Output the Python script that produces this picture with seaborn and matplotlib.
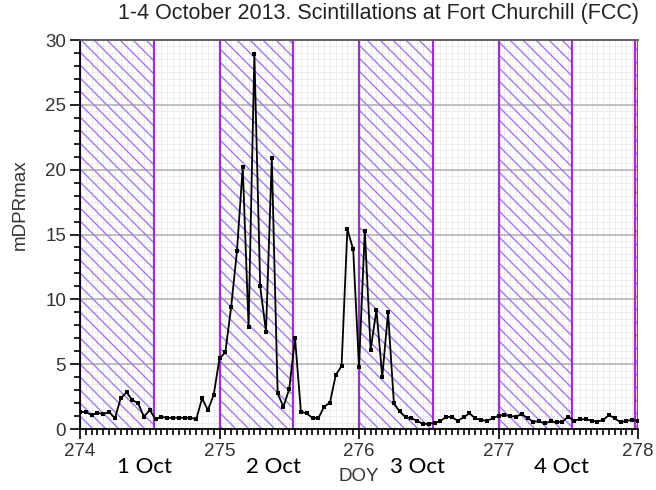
import numpy as np
import matplotlib
matplotlib.use("Agg")
import matplotlib.pyplot as plt
import matplotlib.transforms as mtransforms
from matplotlib.collections import LineCollection
from matplotlib.ticker import MultipleLocator
import seaborn as sns

# Hourly maximum phase-scintillation index (mDPRmax), DOY 274.0 .. 278.0
mdpr_max = [
    1.34, 1.29, 1.08, 1.26, 1.13, 1.34, 0.82, 2.36, 2.83, 2.24, 1.98, 0.95,
    1.46, 0.75, 0.95, 0.85, 0.87, 0.87, 0.87, 0.87, 0.75, 2.36, 1.46, 2.62,
    5.45, 5.90, 9.40, 13.7, 20.2, 7.90, 28.9, 11.0, 7.50, 20.9, 2.75, 1.72,
    3.10, 7.00, 1.34, 1.20, 0.85, 0.82, 1.72, 2.03, 4.16, 4.86, 15.4, 13.85,
    4.80, 15.3, 6.10, 9.20, 4.00, 9.00, 1.98, 1.35, 0.90, 0.82, 0.64, 0.38,
    0.40, 0.47, 0.60, 0.95, 0.90, 0.64, 0.90, 1.21, 0.82, 0.69, 0.64, 0.82,
    1.03, 1.08, 1.00, 0.95, 1.16, 0.82, 0.57, 0.59, 0.44, 0.59, 0.51, 0.57,
    0.95, 0.64, 0.75, 0.75, 0.64, 0.57, 0.69, 1.08, 0.82, 0.51, 0.64, 0.69,
    0.64,
]
doy = 274 + np.arange(len(mdpr_max)) / 24

# Local-night intervals (hatched)
night_start = [274.0, 275.0, 276.0, 277.0, 277.975]
night_end = [274.53, 275.53, 276.53, 277.53, 278.0]

day_labels = ["1 Oct", "2 Oct", "3 Oct", "4 Oct"]
day_label_x = [274.46, 275.39, 276.42, 277.45]

x_ticks = [274, 275, 276, 277, 278]
y_ticks = [0, 5, 10, 15, 20, 25, 30]

sns.set_theme(style="white")
plt.rcParams["font.family"] = ["Liberation Sans", "DejaVu Sans"]

W, H = 656, 490
fig = plt.figure(figsize=(W / 100, H / 100), dpi=100)
ax_px = (80, 40, 558, 389)  # left, top, width, height in pixels
ax = fig.add_axes([ax_px[0] / W, 1 - (ax_px[1] + ax_px[3]) / H,
                   ax_px[2] / W, ax_px[3] / H])
ax.set_xlim(274, 278)
ax.set_ylim(0, 30)

# grid: fine light grid plus gray major lines
for yv in np.arange(0.5, 30, 0.5):
    ax.axhline(yv, color="#ececec", lw=0.7, zorder=0)
for xv in np.arange(274, 278, 1 / 24):
    ax.axvline(xv, color="#ececec", lw=0.7, zorder=0)
for yv in y_ticks[1:-1]:
    ax.axhline(yv, color="#b4b4b4", lw=1.2, zorder=0.5)
for xv in x_ticks[1:-1]:
    ax.axvline(xv, color="#b4b4b4", lw=1.0, zorder=0.5)

# diagonal hatching (45 degrees on screen) clipped to each night band
hatch_color = "#a57ae6"
edge_color = "#9a34c8"
spacing = 13.0 / ax_px[2]          # in axes-x units
drop = ax_px[3] / ax_px[2]         # axes-x run for a full-height 45° line
offsets = np.arange(-drop - spacing, 1 + spacing, spacing)
segs = [[(c, 1.0), (c + drop, 0.0)] for c in offsets]

for s, e in zip(night_start, night_end):
    band = ax.axvspan(s, e, facecolor="none", edgecolor="none", lw=0, zorder=1)
    lc = LineCollection(segs, colors=hatch_color, linewidths=1.0,
                        transform=ax.transAxes, zorder=1)
    ax.add_collection(lc, autolim=False)
    lc.set_clip_path(band)
    ax.axvline(s, color=edge_color, lw=1.6, zorder=1.5)
    ax.axvline(e, color=edge_color, lw=1.6, zorder=1.5)

sns.lineplot(x=doy, y=mdpr_max, ax=ax, color="black", lw=1.3,
             marker="s", markersize=2.2, markeredgewidth=0, zorder=3)

ax.set_xlim(274, 278)
ax.set_ylim(0, 30)
ax.set_xticks(x_ticks)
ax.set_yticks(y_ticks)
ax.xaxis.set_minor_locator(MultipleLocator(1 / 24))
ax.yaxis.set_minor_locator(MultipleLocator(1))
ax.tick_params(axis="both", which="major", direction="out", length=7,
               width=1.2, color="black", labelsize=13.5,
               labelcolor="#333333", pad=3)
ax.tick_params(axis="both", which="minor", direction="out", length=4,
               width=1.2, color="black")
ax.tick_params(axis="x", bottom=True, which="both")
ax.tick_params(axis="y", left=True, which="both")

for side in ["left", "bottom", "top"]:
    ax.spines[side].set_color("black")
    ax.spines[side].set_linewidth(1.3)
ax.spines["top"].set_color("#555555")
ax.spines["right"].set_visible(False)

ax.set_ylabel("mDPRmax", fontsize=13.5, color="#333333")
ax.yaxis.set_label_coords(-0.092, 0.576)
ax.set_xlabel("DOY", fontsize=13.5, color="#333333")
ax.xaxis.set_label_coords(0.5, -0.1)

trans = mtransforms.blended_transform_factory(ax.transData, ax.transAxes)
for lab, xv in zip(day_labels, day_label_x):
    ax.text(xv, -0.098, lab, transform=trans, ha="center", va="center",
            fontsize=16, color="black", family=["Lato", "DejaVu Sans"])

fig.text(379 / W, 1 - 14 / H,
         "1-4 October 2013. Scintillations at Fort Churchill (FCC)",
         ha="center", va="center", fontsize=15.5, color="#222222")

fig.savefig("out.png", dpi=100)
